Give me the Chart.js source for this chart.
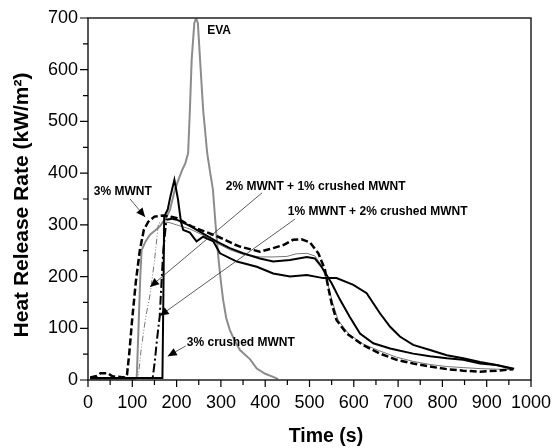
<!DOCTYPE html>
<html lang="en">
<head>
    <meta charset="UTF-8">
    <title>Heat Release Rate</title>
    <script src="https://cdn.jsdelivr.net/npm/chart.js"></script>
    <style>
        body { margin: 0; background: #fff; }
        #wrap { width: 554px; height: 448px; }
    </style>
</head>
<body>
    <div id="wrap"><canvas id="hrrChart" width="554" height="448"></canvas></div>
    <script>
        // time (s) / heat release rate (kW/m2)
        var evaT = [5,105,110,114,118,121,130,140,150,162,175,185,196,204,212,220,226,230,234,240,244,248,253,260,269,276,282,288,294,300,305,312,320,330,343,366,381,400,418,429];
        var evaY = [2,2,5,100,200,251,268,281,288,297,312,329,368,387,405,420,439,522,619,690,700,690,619,522,439,400,368,300,239,190,155,120,97,78,58,40,22,12,6,2];

        var mwnt3T = [5,20,28,45,55,85,88,93,100,108,117,126,136,150,170,190,201,234,264,294,331,343,388,418,441,463,482,501,520,535,542,550,561,584,620,659,697,734,772,810,847,885,922,960];
        var mwnt3Y = [5,8,13,13,7,5,10,50,120,190,251,290,306,316,318,315,313,297,287,277,262,258,248,255,261,271,272,266,245,213,180,148,116,90,68,51,39,32,26,21,18,16,18,21];

        var mix21T = [5,110,114,120,130,140,150,159,170,185,200,230,260,290,320,350,388,420,449,470,494,512,527,540,552,565,590,620,659,697,734,772,810,847,885,922,960];
        var mix21Y = [3,3,10,60,120,165,230,303,306,304,300,292,280,265,252,243,238,238,239,244,245,240,222,190,150,115,88,70,56,44,36,30,26,24,22,21,20];

        var mix12T = [5,146,150,156,162,166,170,177,190,200,230,260,290,320,350,388,418,456,494,512,527,550,569,591,614,644,682,697,734,772,810,847,885,922,962];
        var mix12Y = [4,4,30,80,124,190,251,310,312,310,298,283,268,255,245,235,229,232,238,235,219,187,155,122,90,71,61,58,51,46,42,39,32,29,22];

        var crushed3T = [5,168,170,172,180,186,195,203,210,215,230,245,260,283,298,336,381,418,456,494,531,561,599,629,659,682,704,734,772,810,847,885,922,960];
        var crushed3Y = [4,4,150,316,330,355,387,350,305,290,285,268,277,268,245,229,219,206,200,203,197,197,184,168,129,103,84,68,58,48,42,35,29,21];

        var xTicks = [0,100,200,300,400,500,600,700,800,900,1000];
        var yTicks = [0,100,200,300,400,500,600,700];

        // labels and arrows, in data units
        var notes = [
            { text: 'EVA', x: 269, y: 675 },
            { text: '3% MWNT', x: 13, y: 364, from: [95, 350], to: [129, 315] },
            { text: '2% MWNT + 1% crushed MWNT', x: 311, y: 373, from: [393, 362], to: [140, 180] },
            { text: '1% MWNT + 2% crushed MWNT', x: 451, y: 325, from: [467, 311], to: [162, 124] },
            { text: '3% crushed MWNT', x: 223, y: 73, from: [221, 66], to: [180, 46] }
        ];

        var FONT = "'Liberation Sans', Arial, sans-serif";

        function pts(t, v) {
            return t.map(function(tt, i) { return { x: tt, y: v[i] }; });
        }

        // dashed only while the curve climbs, like the figure
        function dashUntil(limit, dash) {
            return function(c) { return c.p0.parsed.x < limit ? dash : []; };
        }

        var decor = {
            id: 'decor',
            afterDatasetsDraw: function(chart) {
                var ctx = chart.ctx, a = chart.chartArea;
                var xs = chart.scales.x, ys = chart.scales.y;
                ctx.save();
                // frame
                ctx.strokeStyle = '#222';
                ctx.lineWidth = 1.5;
                ctx.strokeRect(a.left, a.top, a.right - a.left, a.bottom - a.top);
                // ticks, major + minor
                ctx.lineWidth = 1.2;
                ctx.strokeStyle = '#000';
                ctx.beginPath();
                for (var v = 0; v <= 1000; v += 50) {
                    var px = xs.getPixelForValue(v);
                    var len = (v % 100 === 0) ? 7 : 5;
                    ctx.moveTo(px, a.bottom);
                    ctx.lineTo(px, a.bottom + len);
                }
                for (var w = 0; w <= 700; w += 50) {
                    var py = ys.getPixelForValue(w);
                    var len2 = (w % 100 === 0) ? 8 : 5;
                    ctx.moveTo(a.left, py);
                    ctx.lineTo(a.left - len2, py);
                }
                ctx.stroke();

                // axis titles
                ctx.fillStyle = '#000';
                ctx.textAlign = 'center';
                ctx.textBaseline = 'middle';
                ctx.font = 'bold 19.5px ' + FONT;
                ctx.fillText('Time (s)', 326, 437);
                ctx.save();
                ctx.translate(22, 205);
                ctx.rotate(-Math.PI / 2);
                ctx.font = 'bold 21px ' + FONT;
                ctx.fillText('Heat Release Rate (kW/m²)', 0, 0);
                ctx.restore();

                // annotations
                ctx.font = 'bold 12px ' + FONT;
                ctx.textAlign = 'left';
                notes.forEach(function(n) {
                    ctx.fillText(n.text, xs.getPixelForValue(n.x), ys.getPixelForValue(n.y));
                    if (!n.from) return;
                    var x0 = xs.getPixelForValue(n.from[0]), y0 = ys.getPixelForValue(n.from[1]);
                    var x1 = xs.getPixelForValue(n.to[0]), y1 = ys.getPixelForValue(n.to[1]);
                    var ang = Math.atan2(y1 - y0, x1 - x0);
                    ctx.strokeStyle = '#333';
                    ctx.lineWidth = 0.8;
                    ctx.beginPath();
                    ctx.moveTo(x0, y0);
                    ctx.lineTo(x1, y1);
                    ctx.stroke();
                    var hl = 9, hw = 4;
                    ctx.beginPath();
                    ctx.moveTo(x1, y1);
                    ctx.lineTo(x1 - hl * Math.cos(ang) + hw * Math.sin(ang), y1 - hl * Math.sin(ang) - hw * Math.cos(ang));
                    ctx.lineTo(x1 - hl * Math.cos(ang) - hw * Math.sin(ang), y1 - hl * Math.sin(ang) + hw * Math.cos(ang));
                    ctx.closePath();
                    ctx.fill();
                });
                ctx.restore();
            }
        };

        var ctx = document.getElementById('hrrChart').getContext('2d');
        var hrrChart = new Chart(ctx, {
            type: 'line',
            data: {
                datasets: [{
                    label: 'EVA',
                    data: pts(evaT, evaY),
                    borderColor: '#8c8c8c',
                    borderWidth: 2,
                    order: 5
                }, {
                    label: '2% MWNT + 1% crushed MWNT',
                    data: pts(mix21T, mix21Y),
                    borderColor: '#777',
                    borderWidth: 1,
                    segment: { borderDash: dashUntil(165, [6, 2, 1, 2, 1, 2]) },
                    order: 4
                }, {
                    label: '3% MWNT',
                    data: pts(mwnt3T, mwnt3Y),
                    borderColor: '#000',
                    borderWidth: 2.5,
                    borderDash: [7, 3],
                    order: 3
                }, {
                    label: '1% MWNT + 2% crushed MWNT',
                    data: pts(mix12T, mix12Y),
                    borderColor: '#000',
                    borderWidth: 2,
                    segment: { borderDash: dashUntil(180, [9, 3, 2, 3]) },
                    order: 2
                }, {
                    label: '3% crushed MWNT',
                    data: pts(crushed3T, crushed3Y),
                    borderColor: '#000',
                    borderWidth: 2,
                    order: 1
                }]
            },
            options: {
                responsive: false,
                animation: false,
                elements: { point: { radius: 0 }, line: { tension: 0, fill: false } },
                layout: { padding: { top: 18, right: 23, left: 0, bottom: 0 } },
                plugins: { legend: { display: false }, tooltip: { enabled: false } },
                scales: {
                    x: {
                        type: 'linear',
                        min: 0,
                        max: 1000,
                        afterBuildTicks: function(s) { s.ticks = xTicks.map(function(v) { return { value: v }; }); },
                        afterFit: function(s) { s.height = 68; s.paddingLeft = 0; s.paddingRight = 0; },
                        grid: { display: false, drawTicks: false },
                        border: { display: false },
                        ticks: {
                            color: '#000', padding: 12, maxRotation: 0,
                            font: { family: FONT, size: 18 },
                            callback: function(v) { return String(v); }
                        }
                    },
                    y: {
                        type: 'linear',
                        min: 0,
                        max: 700,
                        afterBuildTicks: function(s) { s.ticks = yTicks.map(function(v) { return { value: v }; }); },
                        afterFit: function(s) { s.width = 88; s.paddingTop = 0; s.paddingBottom = 0; },
                        grid: { display: false, drawTicks: false },
                        border: { display: false },
                        ticks: {
                            color: '#000', padding: 10,
                            font: { family: FONT, size: 18 },
                            callback: function(v) { return String(v); }
                        }
                    }
                }
            },
            plugins: [decor]
        });
    </script>
</body>
</html>
